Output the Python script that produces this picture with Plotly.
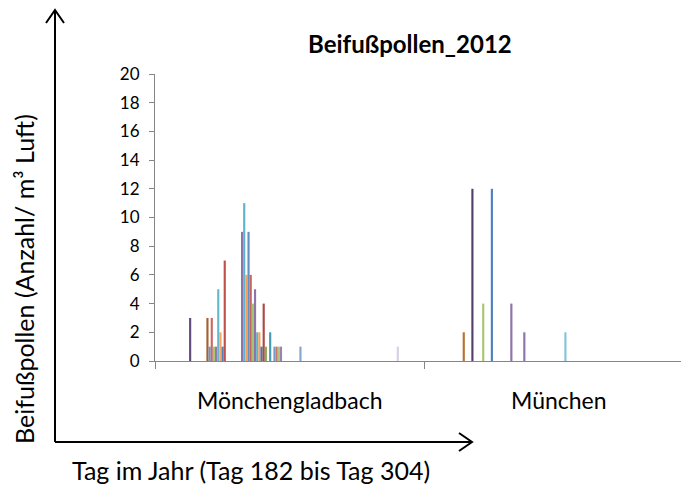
import plotly.graph_objects as go

# ---- data ----
categories = ["Mönchengladbach", "München"]
days = list(range(182, 305))  # one series per day (Tag 182 .. Tag 304)

# non-zero daily counts per station (day -> pollen / m³), all other days 0
mg_counts = {197: 3, 205: 3, 206: 1, 207: 3, 208: 1, 209: 1, 210: 5, 211: 2,
             212: 1, 213: 7, 221: 9, 222: 11, 223: 6, 224: 9, 225: 6, 226: 4,
             227: 5, 228: 2, 229: 2, 230: 1, 231: 4, 232: 1, 234: 2, 236: 1,
             237: 1, 238: 1, 239: 1, 248: 1, 293: 1}
mu_counts = {199: 2, 203: 12, 208: 4, 212: 12, 221: 4, 227: 2, 246: 2}

y_ticks = [0, 2, 4, 6, 8, 10, 12, 14, 16, 18, 20]

title_text = "Beifußpollen_2012"
y_title = "Beifußpollen (Anzahl/ m³ Luft)"
x_title = "Tag im Jahr (Tag 182 bis Tag 304)"

# ---- styling helpers ----
OFF = 8  # page body margin of the browser
W, H = 689 - OFF, 490 - OFF
L, R, T, B = 155 - OFF, 0, 74 - OFF, 129
PW, PH = W - L - R, H - T - B


def px(x):  # page pixel -> paper
    return (x - OFF - L) / PW


def py(y):
    return (H - B - (y - OFF)) / PH


base_colors = ["#4F81BD", "#C0504D", "#9BBB59", "#8064A2", "#4BACC6", "#F79646"]
block_shade = [0, -0.4, -0.25, -0.35, 0.15, 0, 0.1, 0.1, -0.1, 0.2, 0.3, 0.3,
               0.35, 0.4, 0.45, 0.5, 0.55, 0.6, 0.7, 0.7, 0.7]


def shade(hexc, f):
    r, g, b = (int(hexc[i:i + 2], 16) for i in (1, 3, 5))
    if f >= 0:
        r, g, b = (round(c + (255 - c) * f) for c in (r, g, b))
    else:
        r, g, b = (round(c * (1 + f)) for c in (r, g, b))
    return "#%02X%02X%02X" % (r, g, b)


fig = go.Figure()
for i, d in enumerate(days):
    col = shade(base_colors[i % 6], block_shade[i // 6])
    fig.add_trace(go.Bar(
        x=categories,
        y=[mg_counts.get(d, 0), mu_counts.get(d, 0)],
        name=f"Tag {d}",
        marker=dict(color=col, line=dict(width=0)),
        showlegend=False,
    ))

FONT = "Lato"
axis_col = "#868686"

fig.update_layout(
    width=W, height=H,
    margin=dict(l=L, r=R, t=T, b=B, pad=0),
    paper_bgcolor="white", plot_bgcolor="white",
    barmode="group", bargap=0.012, bargroupgap=0,
    font=dict(family=FONT, color="#000000"),
    xaxis=dict(type="category", range=[-0.5, 1.483], showline=True,
               linecolor=axis_col, linewidth=1, ticks="outside",
               tickson="boundaries", ticklen=7, tickcolor=axis_col,
               showticklabels=False, showgrid=False, zeroline=False,
               fixedrange=True),
    yaxis=dict(range=[0, 20], tickvals=y_ticks, showline=True,
               linecolor=axis_col, linewidth=1, ticks="outside", ticklen=5,
               tickcolor=axis_col, tickfont=dict(size=17, color="#000"),
               ticklabelstandoff=6, showgrid=False, zeroline=False),
)


def label(text, x, y, size, xref="paper", angle=0):
    return dict(text=text, x=x, y=y, xref=xref, yref="paper",
                xanchor="center", yanchor="middle", showarrow=False,
                textangle=angle,
                font=dict(size=size, family=FONT, color="#000"))


ann = [label(f"<b>{title_text}</b>", px(410), py(44), 24)]
for c, cx in zip(categories, [0, 1]):
    ann.append(label(c, cx, py(400), 23, xref="x"))
ann.append(label(x_title, px(251), py(470), 25))
ann.append(label(y_title, px(24), py(279), 25, angle=-90))
fig.update_layout(annotations=ann)

# big axis arrows (decoration)
ox, oy = 55, 442
top_y, right_x = 10, 472
paths = [
    f"M {px(ox)},{py(oy)} L {px(ox)},{py(top_y)}",
    f"M {px(ox - 9)},{py(top_y + 13)} L {px(ox)},{py(top_y)} L {px(ox + 9)},{py(top_y + 13)}",
    f"M {px(ox)},{py(oy)} L {px(right_x)},{py(oy)}",
    f"M {px(right_x - 13)},{py(oy - 9)} L {px(right_x)},{py(oy)} L {px(right_x - 13)},{py(oy + 9)}",
]
for p in paths:
    fig.add_shape(type="path", path=p, xref="paper", yref="paper",
                  line=dict(color="#000", width=2))

fig.write_html("out.html")
